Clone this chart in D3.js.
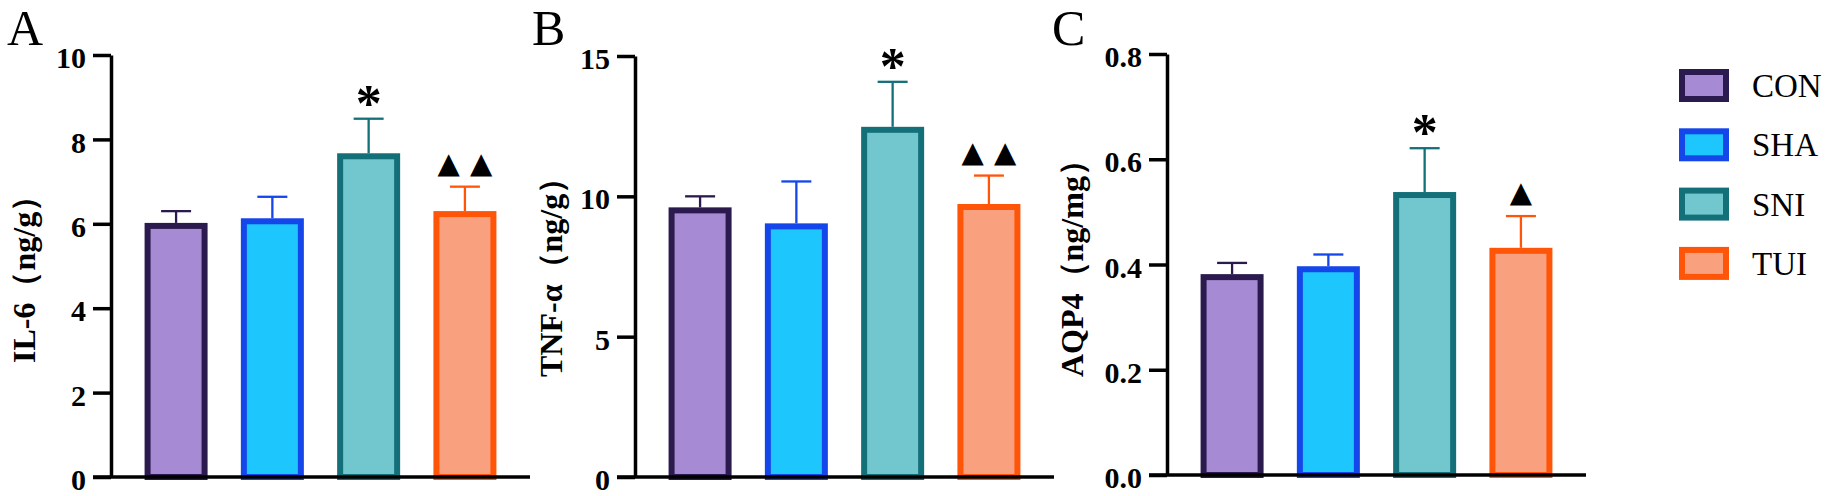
<!DOCTYPE html>
<html>
<head>
<meta charset="utf-8">
<script src="https://cdn.jsdelivr.net/npm/d3@7"></script>
<style>
  body { margin: 0; background: #fff; }
  svg { display: block; }
</style>
</head>
<body>
<div id="chart"></div>
<script>
// groups and colours
const groups = ["CON", "SHA", "SNI", "TUI"];
const fills = ["#a68bd4", "#1dc6fc", "#72c7cf", "#f9a07e"];
const strokes = ["#2b1a4e", "#1446ea", "#137079", "#ff5508"];

// IL-6 (ng/g)
const il6Mean = [5.95, 6.06, 7.60, 6.23];
const il6Err = [0.35, 0.58, 0.89, 0.65];
const il6Marks = ["", "", "*", "▲▲"];
const il6Ticks = [0, 2, 4, 6, 8, 10];

// TNF-α (ng/g)
const tnfMean = [9.50, 8.93, 12.37, 9.62];
const tnfErr = [0.50, 1.60, 1.71, 1.12];
const tnfMarks = ["", "", "*", "▲▲"];
const tnfTicks = [0, 5, 10, 15];

// AQP4 (ng/mg)
const aqpMean = [0.376, 0.391, 0.532, 0.426];
const aqpErr = [0.027, 0.028, 0.089, 0.066];
const aqpMarks = ["", "", "*", "▲"];
const aqpTicks = [0, 0.2, 0.4, 0.6, 0.8];

const width = 1831, height = 496;
const serif = "'Times New Roman', 'Liberation Serif', serif";

const panels = [
    {letter: "A", label: "IL-6（ng/g）", mean: il6Mean, err: il6Err, marks: il6Marks, ticks: il6Ticks,
     fmt: d3.format("d"), ax: 111, top: 55, bottom: 477, labelX: 35, labelY: 363, letterX: 7},
    {letter: "B", label: "TNF-α（ng/g）", mean: tnfMean, err: tnfErr, marks: tnfMarks, ticks: tnfTicks,
     fmt: d3.format("d"), ax: 635, top: 56, bottom: 477, labelX: 562, labelY: 377, letterX: 532},
    {letter: "C", label: "AQP4（ng/mg）", mean: aqpMean, err: aqpErr, marks: aqpMarks, ticks: aqpTicks,
     fmt: d3.format(".1f"), ax: 1167, top: 54, bottom: 475, labelX: 1083, labelY: 377, letterX: 1052}
];

const tickLen = 18;
const barStroke = 6;
const triGap = 10; // space between the two triangles

const svg = d3.select("#chart").append("svg")
    .attr("width", width)
    .attr("height", height);

panels.forEach(p => {
    const y = d3.scaleLinear()
        .domain([0, d3.max(p.ticks)])
        .range([p.bottom, p.top]);

    const x = d3.scaleBand()
        .domain(groups)
        .range([p.ax, p.ax + 419])
        .paddingInner(0.408)
        .paddingOuter(0.38);

    const cx = d => x(d) + x.bandwidth() / 2;
    const g = svg.append("g");

    // bars
    g.append("g")
        .selectAll("rect")
        .data(groups)
        .join("rect")
        .attr("x", d => x(d))
        .attr("y", (d, i) => y(p.mean[i]))
        .attr("width", x.bandwidth())
        .attr("height", (d, i) => y(0) - y(p.mean[i]))
        .attr("fill", (d, i) => fills[i])
        .attr("stroke", (d, i) => strokes[i])
        .attr("stroke-width", barStroke);

    // error bars (upper only)
    const eb = g.append("g")
        .selectAll("g")
        .data(groups)
        .join("g")
        .attr("stroke", (d, i) => strokes[i])
        .attr("stroke-width", 2.3);

    eb.append("line")
        .attr("x1", cx)
        .attr("x2", cx)
        .attr("y1", (d, i) => y(p.mean[i]) - barStroke / 2)
        .attr("y2", (d, i) => y(p.mean[i] + p.err[i]));

    eb.append("line")
        .attr("x1", d => cx(d) - 15)
        .attr("x2", d => cx(d) + 15)
        .attr("y1", (d, i) => y(p.mean[i] + p.err[i]))
        .attr("y2", (d, i) => y(p.mean[i] + p.err[i]));

    // significance marks
    const isStar = i => p.marks[i] === "*";
    g.append("g")
        .selectAll("text")
        .data(groups)
        .join("text")
        .attr("x", cx)
        .attr("dx", (d, i) => isStar(i) ? 0 : triGap / 2)
        .attr("y", (d, i) => y(p.mean[i] + p.err[i]) + (isStar(i) ? 2 : -14))
        .attr("text-anchor", "middle")
        .attr("font-family", (d, i) => isStar(i) ? serif : "'DejaVu Sans', sans-serif")
        .attr("font-weight", "bold")
        .attr("font-size", (d, i) => isStar(i) ? 52 : 29)
        .attr("letter-spacing", (d, i) => isStar(i) ? 0 : triGap)
        .text((d, i) => p.marks[i]);

    // y axis
    const yAxis = g.append("g")
        .attr("transform", `translate(${p.ax},0)`)
        .call(d3.axisLeft(y)
            .tickValues(p.ticks)
            .tickFormat(p.fmt)
            .tickSize(tickLen)
            .tickSizeOuter(0)
            .tickPadding(7));
    yAxis.select(".domain")
        .attr("stroke", "#000")
        .attr("stroke-width", 3.5);
    yAxis.selectAll(".tick line")
        .attr("stroke", "#000")
        .attr("stroke-width", 3.5);
    yAxis.selectAll(".tick text")
        .attr("font-family", serif)
        .attr("font-weight", "bold")
        .attr("font-size", 30)
        .attr("fill", "#000")
        .attr("dy", "0.42em");

    // x axis line
    g.append("line")
        .attr("x1", x.range()[0] - tickLen)
        .attr("x2", x.range()[1])
        .attr("y1", y(0))
        .attr("y2", y(0))
        .attr("stroke", "#000")
        .attr("stroke-width", 3.5);

    // y label
    g.append("text")
        .attr("transform", `translate(${p.labelX},${p.labelY}) rotate(-90)`)
        .attr("font-family", serif)
        .attr("font-weight", "bold")
        .attr("font-size", 32)
        .text(p.label);

    // panel letter
    g.append("text")
        .attr("x", p.letterX)
        .attr("y", 45)
        .attr("font-family", serif)
        .attr("font-size", 50)
        .text(p.letter);
});

// legend
const legend = svg.append("g")
    .attr("transform", "translate(1682,72)")
    .selectAll("g")
    .data(groups)
    .join("g")
    .attr("transform", (d, i) => `translate(0,${i * 59.3})`);

legend.append("rect")
    .attr("width", 44)
    .attr("height", 27)
    .attr("fill", (d, i) => fills[i])
    .attr("stroke", (d, i) => strokes[i])
    .attr("stroke-width", barStroke);

legend.append("text")
    .attr("x", 70)
    .attr("y", 13.5)
    .attr("dy", "0.35em")
    .attr("font-family", serif)
    .attr("font-size", 33)
    .text(d => d);
</script>
</body>
</html>
